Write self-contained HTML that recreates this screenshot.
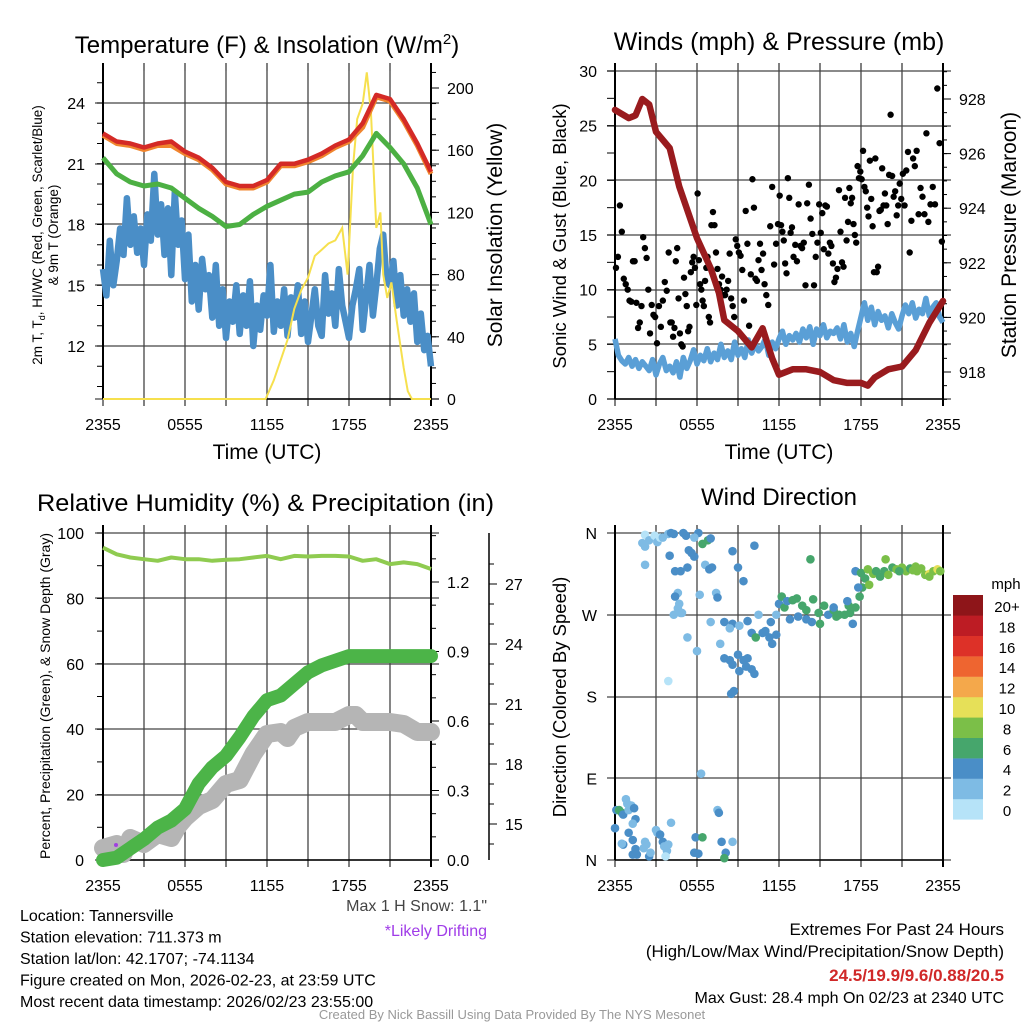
<!DOCTYPE html>
<html><head><meta charset="utf-8"><style>
html,body{margin:0;padding:0;background:#fff;}
svg{display:block;font-family:"Liberation Sans",sans-serif;}
</style></head><body>
<svg id="fig" width="1024" height="1024" viewBox="0 0 1024 1024" xmlns="http://www.w3.org/2000/svg">
<rect width="1024" height="1024" fill="#fff"/>
<g id="layer"></g>
</svg>
<script>
// ---------- DATA ----------
const timeTicks = ["2355","0555","1155","1755","2355"];
const hrs = [0,1,2,3,4,5,6,7,8,9,10,11,12,13,14,15,16,17,18,19,20,21,22,23,24];
const tempAir = [22.5,22.1,22.0,21.8,22.0,22.1,21.6,21.3,20.8,20.1,19.9,19.9,20.2,21.0,21.0,21.2,21.5,21.9,22.2,23.0,24.4,24.2,23.2,22.0,20.6];
const temp9m = [22.4,22.0,21.9,21.7,21.9,21.9,21.5,21.2,20.7,20.0,19.8,19.8,20.1,20.9,20.9,21.1,21.4,21.8,22.1,22.8,24.3,24.1,23.1,21.9,20.5];
const heatIdx = [21.3,20.5,20.1,19.9,20.0,19.8,19.3,18.8,18.4,17.9,18.0,18.5,18.9,19.2,19.5,19.6,20.1,20.4,20.6,21.4,22.5,21.8,21.0,19.8,18.0];
const dewQ = [15.8,14.5,17.2,15.0,16.2,17.8,16.5,19.3,17.0,18.4,16.6,17.8,16.0,18.5,17.2,20.5,17.5,19.0,16.5,18.8,15.5,19.6,17.0,18.2,
 15.3,17.5,14.2,16.0,13.8,16.3,14.8,15.5,13.4,16.0,13.0,14.8,12.4,14.2,13.2,15.0,12.6,14.5,13.0,15.2,12.0,14.0,12.8,14.5,
 13.5,16.0,12.7,14.2,13.0,14.8,12.5,14.4,13.4,15.0,12.6,14.2,12.2,13.5,14.8,13.0,12.5,15.5,13.6,14.6,13.0,15.8,14.0,13.2,
 12.4,14.0,14.8,15.8,12.8,14.4,16.0,13.5,15.0,16.8,17.5,15.2,15.0,16.2,14.0,15.5,13.5,14.8,13.2,14.6,12.2,13.6,11.8,12.5,11.0];
const solarT = [0,11.9,12.5,13.0,13.5,14.0,14.5,15.0,15.5,16.0,16.5,17.0,17.5,17.9,18.3,18.6,19.0,19.3,19.6,20.0,20.3,20.5,20.8,21.1,21.5,22.0,22.3,22.6,24];
const solarV = [0,0,12,25,38,58,70,78,92,96,100,102,110,80,150,180,190,210,185,110,120,80,65,75,50,20,5,0,0];
const presT = [0,1,1.5,2,2.5,3,4,4.7,6,7,7.6,8,9,10,10.8,11.5,12,13,14,15,16,17,18,18.5,19,20,21,22,23,24];
const presV = [927.6,927.3,927.4,928.0,927.8,926.8,926.2,924.8,922.9,921.8,920.9,919.9,919.5,918.9,919.6,918.5,917.9,918.1,918.1,918.0,917.7,917.6,917.6,917.5,917.8,918.1,918.2,918.8,919.8,920.6];
const windQ = [5.5,4.0,3.5,3.2,3.8,3.0,3.6,2.8,3.4,3.0,2.6,3.6,2.2,3.2,3.8,2.6,3.0,2.4,3.4,2.0,3.8,2.8,3.5,4.5,3.2,4.0,3.5,4.6,3.4,4.2,3.6,5.0,
 3.8,4.4,3.6,5.2,4.0,4.6,3.8,5.4,4.2,5.0,4.4,4.8,5.5,4.0,5.2,4.6,5.5,6.2,5.0,5.8,5.4,6.0,5.2,6.4,5.6,6.6,5.0,6.4,5.8,6.8,5.6,6.2,
 6.0,6.5,5.5,6.8,5.2,6.0,4.8,6.2,7.5,8.8,7.2,8.4,6.8,8.0,7.2,7.6,6.5,7.8,7.0,6.4,7.6,8.6,7.8,8.8,7.4,8.2,7.8,9.2,7.6,8.4,8.8,7.5,7.0];
const gustByHour = [
 [12,13,17.7,15.3,11,10.5,10],[9,8.9,12.6,12.6,8.8,6.5,7,8.5],[14.8,13.8,12.9,10,6,8.6,7.7,7.5],[5.1,8.5,6.6,9.0,10.7,9.9,13.4],
 [7,7,5.7,6.5,12.6,13.8,9.2,6,5,4.8],[11.1,9.6,8.5,6.2,6.6,11.6,12.5,13,12,8.6],[18.8,12.7,10.5,10,9,8.5,10.8,12,13,7.5,7],
 [15.9,17.1,15.9,13.4,11.9,10.5,10,11.2,9.5],[9.5,10,10.8,13.3,9.2,8.5,7.5,14.6,14],[13.4,13.1,11.8,9,17.2,14.2,6.7,11.4],
 [20.1,17.5,11,10.8,12.7,14.2,11.8,13.3,10.5],[9.5,8.6,15.8,19.4,12.3,14.2,16],[18.6,15.9,15.3,14.5,12.4,11.5,20.2,18.4,15.2,15.7],
 [13.0,14.1,12.6,17.8,14,13.8,14.3,10.4],[17.9,19.6,16.5,15.1,10.4,13,14.3,17.8],[15.2,17,13.7,17.7,17.6,13.3,14.3,14.0,12.4],
 [10.7,11.1,11.9,19.1,15.3,12.5,12.1,18.4,14.5],[16.2,19.3,17.9,18.4,16,15,14.3,21.3,20.2,20.8],[20.1,22.7,19.4,19.0,17.5,16.7,21.8,18.3,15.8,11.6],
 [22.0,11.6,12.1,17.2,17.3,21.1,17.7,18.8,17.7,16.0],[20.5,26.0,20.4,18.5,19,16.8,17.7,19.7,18.3],[20.6,17.7,20.9,22.6,13.4,16.3,22.0,21.3],
 [22.7,16.9,19.3,18.5,16.9,24.3,16.2],[17.8,19.4,17.8,28.4,23.4,14.4]];
const rhV = [95.5,93.5,92.5,92,91.5,92.5,92,92,91.5,91.8,92,92.5,93,92,93,92.8,93,93,92.8,91.5,92,90.5,91,90.5,89];
const precipT = [0,1,2,3,4,5,6,7,8,9,10,11,12,13,14,15,16,17,18,19,24];
const precipV = [0,0.01,0.05,0.09,0.14,0.17,0.22,0.33,0.40,0.45,0.53,0.62,0.69,0.71,0.76,0.81,0.84,0.86,0.88,0.88,0.88];
const snowT = [0,1,1.5,2,3,4,5,5.5,6,7,8,9,10,11,12,13,13.5,14,15,16,17,18,18.5,19,20,21,22,23,24];
const snowV = [13.8,14.0,13.5,14.3,14.0,14.5,14.3,14.9,15.3,15.9,16.2,17.0,17.2,18.5,19.5,19.6,19.3,19.8,20.1,20.1,20.1,20.45,20.45,20.1,20.1,20.1,20.0,19.6,19.6];
const dirT = [0,0.1,0.3,0.5,0.6,0.8,0.9,1.0,1.2,1.4,1.5,1.3,1.0,0.6,0.5,1.3,1.5,1.3,1.6,2.1,2.2,2.3,2.5,2.6,3.0,3.1,3.3,3.5,3.6,3.8,3.9,4.1,3.7,5.8,6.1,5.9,6.4,6.3,7.5,7.6,7.8,8.1,8.0,8.6,
 2.0,2.2,2.2,2.5,2.9,3.1,3.3,3.5,3.9,4.1,4.3,5.0,5.2,6.1,5.8,6.4,6.8,7.0,5.4,5.6,5.8,4.0,2.2,4.4,4.8,5.3,6.6,6.9,7.1,8.6,9.4,4.6,4.4,4.7,4.6,4.3,4.8,4.9,5.3,6.0,3.9,6.2,7.0,7.4,7.5,8.0,8.6,8.4,9.1,9.7,10.0,10.3,7.7,8.0,8.4,8.6,9.0,9.4,9.1,9.6,10.0,10.2,9.7,8.5,8.7,
 10.5,10.8,11.0,11.3,11.5,11.8,11.4,11.8,12.0,12.2,12.4,12.6,13.0,13.3,12.8,13.4,13.7,14.0,14.5,14.0,14.4,14.9,15.3,15.6,15.0,16.0,16.4,16.8,16.2,16.0,17.1,17.2,17.6,17.4,17.0,17.9,18.1,18.3,17.8,18.6,18.9,19.1,19.4,19.7,20.0,20.3,20.6,21.0,21.3,21.6,21.8,22.1,22.4,22.7,23.0,23.3,23.6,23.8,19.8,17.6,18.0,18.5,20.8,22.0,23.0,14.3,10.2,9.0];
const dirV = [35,55,55,52,50,67,62,55,60,57,45,40,30,17,18,22,12,6,6,13,20,17,4,8,33,30,28,20,15,10,17,41,4,8,7,25,25,95,55,52,20,8,2,20,
 349,345,358,352,357,350,355,355,359,360,359,360,357,360,355,348,352,354,341,338,334,335,325,318,318,322,325,320,322,340,307,294,290,282,277,270,272,272,245,230,197,292,262,294,289,262,260,255,258,263,250,245,238,222,220,215,226,220,208,213,210,205,222,183,186,
 270,250,252,245,238,248,262,270,282,290,278,285,286,288,265,268,280,275,287,265,262,272,280,270,260,275,270,270,268,278,280,272,278,260,285,290,300,310,300,303,315,318,312,318,314,322,320,322,318,321,319,318,321,314,315,318,320,318,331,318,316,320,318,323,312,331,346,322];
const dirS = [4,4,6,6,4,2,2,2,2,4,4,2,4,4,2,4,4,4,4,2,2,2,4,2,2,2,4,4,2,2,2,2,1,4,4,4,6,2,2,4,4,4,6,2,
 2,2,1,2,1,2,1,2,2,4,4,4,4,4,2,6,6,4,4,4,4,4,2,4,4,4,2,4,4,4,4,2,4,2,2,2,2,2,2,2,1,2,2,2,4,4,4,2,2,4,4,6,2,4,4,4,4,4,4,4,4,4,4,4,4,
 2,4,4,4,4,4,4,2,4,6,6,4,6,6,4,4,6,6,6,4,4,6,6,4,6,6,6,6,6,4,6,6,6,4,4,6,6,6,4,8,8,6,6,6,8,6,8,8,8,6,8,8,8,8,10,8,10,8,8,4,6,8,6,8,8,6,4,4];
const speedLabels = ["0","2","4","6","8","10","12","14","16","18","20+"];
const speedColors = ["#b6e3f8","#7ebbe4","#4a8ec7","#46a66c","#7bbf48","#e6e058","#f4a84b","#ee6530","#dd3128","#bd1c24","#8e1519"];

// ---------- HELPERS ----------
const NS="http://www.w3.org/2000/svg";
const L=document.getElementById('layer');
function mk(tag,attrs,parent){const e=document.createElementNS(NS,tag);for(const k in attrs)e.setAttribute(k,attrs[k]);(parent||L).appendChild(e);return e;}
function txt(s,x,y,size,anchor,extra,parent){const t=mk('text',Object.assign({x:x,y:y,'font-size':size,'text-anchor':anchor||'middle',fill:'#000'},extra||{}),parent);t.textContent=s;return t;}
const W=328;
function xs(px0){return h=>px0+h/24*W;}
function lin(d0,d1,p0,p1){return v=>p0+(v-d0)/(d1-d0)*(p1-p0);}
function pathD(xa,ya,fx,fy){return xa.map((h,i)=>(i?'L':'M')+fx(h).toFixed(1)+','+fy(ya[i]).toFixed(1)).join(' ');}
function frame(g,px0,top,bot,hLines){
  for(let i=0;i<=8;i++){const x=px0+i*W/8;mk('line',{x1:x,x2:x,y1:top,y2:bot,stroke:'#444','stroke-width':1.3},g);
    mk('line',{x1:x,x2:x,y1:bot,y2:bot+7,stroke:'#000','stroke-width':1},g);
    if(i<8)mk('line',{x1:x,x2:x,y1:top-8,y2:top,stroke:'#000','stroke-width':1},g);}
  hLines.forEach(y=>mk('line',{x1:px0-8,x2:px0+W+8,y1:y,y2:y,stroke:'#444','stroke-width':1.3},g));
  mk('line',{x1:px0,x2:px0,y1:top-8,y2:bot,stroke:'#000','stroke-width':2},g);
  mk('line',{x1:px0+W,x2:px0+W,y1:top-8,y2:bot+7,stroke:'#000','stroke-width':2},g);
  mk('line',{x1:px0,x2:px0+W,y1:bot,y2:bot,stroke:'#000','stroke-width':1.5},g);
  timeTicks.forEach((t,i)=>{const tt=txt(t,px0+i*W/4,bot+31,16,'middle',{},g);});
}
function group(name){const g=mk('g',{});return g;}

// ---------- PANEL 1: Temperature ----------
(function(){
 const g=group('temperature-panel');
 const fx=xs(103), fy=lin(12,24,346,103), fs=lin(0,200,399,88);
 frame(g,103,71,399,[103,164,224,285,346,399]);
 [12,15,18,21,24].forEach(v=>{txt(String(v),85,fy(v)+6,16,'end',{},g);});
 for(let v=10;v<=25;v++){mk('line',{x1:97,x2:103,y1:fy(v),y2:fy(v),stroke:'#000'},g);}
 [0,40,80,120,160,200].forEach(v=>{txt(String(v),447,fs(v)+6,16,'start',{},g);mk('line',{x1:431,x2:439,y1:fs(v),y2:fs(v),stroke:'#000'},g);});
 for(let v=10;v<=210;v+=10){mk('line',{x1:431,x2:436,y1:fs(v),y2:fs(v),stroke:'#000'},g);}
 const qt=dewQ.map((v,i)=>i/4);
 let p=mk('path',{d:pathD(qt,dewQ,fx,fy),fill:'none',stroke:'#4a8ec7','stroke-width':6.5,'stroke-linejoin':'round'},g);
 
 p=mk('path',{d:pathD(solarT,solarV,fx,fs),fill:'none',stroke:'#f6e04e','stroke-width':2},g);
 
 p=mk('path',{d:pathD(hrs,heatIdx,fx,fy),fill:'none',stroke:'#4cb043','stroke-width':5,'stroke-linejoin':'round'},g);
 
 p=mk('path',{d:pathD(hrs,temp9m,fx,fy),fill:'none',stroke:'#f0852e','stroke-width':5,'stroke-linejoin':'round'},g);
 
 p=mk('path',{d:pathD(hrs,tempAir,fx,fy),fill:'none',stroke:'#d42a26','stroke-width':4.5,'stroke-linejoin':'round'},g);
 
 const t=txt('',267,53,24,'middle',{},g);t.innerHTML='Temperature (F) &amp; Insolation (W/m<tspan dy="-9" font-size="15">2</tspan><tspan dy="9">)</tspan>';
 
 txt('Time (UTC)',267,459,21,'middle',{},g);
 const yl=txt('',0,0,13.5,'middle',{transform:'translate(42,235) rotate(-90)'},g);
 yl.innerHTML='2m T, T<tspan font-size="9" dy="3">d</tspan><tspan dy="-3">, HI/WC (Red, Green, Scarlet/Blue)</tspan>';
 txt('& 9m T (Orange)',0,0,13.5,'middle',{transform:'translate(58,235) rotate(-90)'},g);
 txt('Solar Insolation (Yellow)',0,0,21,'middle',{transform:'translate(502,235) rotate(-90)'},g);
})();

// ---------- PANEL 2: Winds ----------
(function(){
 const g=group('winds-panel');
 const fx=xs(615), fy=lin(0,30,399,71), fp=lin(918,928,372,99);
 frame(g,615,71,399,[71,126,180,235,290,344,399]);
 [0,5,10,15,20,25,30].forEach(v=>{txt(String(v),597,fy(v)+6,16,'end',{},g);});
 for(let v=0;v<=30;v+=2.5){mk('line',{x1:607,x2:615,y1:fy(v),y2:fy(v),stroke:'#000'},g);}
 [918,920,922,924,926,928].forEach(v=>{txt(String(v),959,fp(v)+6,16,'start',{},g);mk('line',{x1:943,x2:951,y1:fp(v),y2:fp(v),stroke:'#000'},g);});
 for(let v=917;v<=929;v+=0.5){mk('line',{x1:943,x2:947,y1:fp(v),y2:fp(v),stroke:'#000'},g);}
 const qt=windQ.map((v,i)=>i/4);
 let p=mk('path',{d:pathD(qt,windQ,fx,fy),fill:'none',stroke:'#5a9fd6','stroke-width':5.5,'stroke-linejoin':'round'},g);
 
 gustByHour.forEach((arr,h)=>arr.forEach((v,i)=>{
   const c=mk('circle',{cx:fx(h+(i+0.5)/arr.length),cy:fy(v),r:3.2,fill:'#000'},g);
   
   
 }));
 p=mk('path',{d:pathD(presT,presV,fx,fp),fill:'none',stroke:'#991b1e','stroke-width':6.5,'stroke-linejoin':'round','stroke-linecap':'round'},g);
 
 txt('Winds (mph) & Pressure (mb)',779,50,25,'middle',{},g);
 txt('Time (UTC)',779,459,21,'middle',{},g);
 txt('Sonic Wind & Gust (Blue, Black)',0,0,18.5,'middle',{transform:'translate(566,236) rotate(-90)'},g);
 txt('Station Pressure (Maroon)',0,0,21,'middle',{transform:'translate(1016,235) rotate(-90)'},g);
})();

// ---------- PANEL 3: RH & Precip ----------
(function(){
 const g=group('humidity-precip-panel');
 const fx=xs(103), fy=lin(0,100,860,533), fpr=lin(0,1.2,860,582), fsn=lin(21,27,704,584);
 frame(g,103,533,860,[533,598,664,729,795,860]);
 [0,20,40,60,80,100].forEach(v=>{txt(String(v),84,fy(v)+6,16,'end',{},g);});
 for(let v=0;v<=100;v+=10){mk('line',{x1:97,x2:103,y1:fy(v),y2:fy(v),stroke:'#000'},g);}
 [0,0.3,0.6,0.9,1.2].forEach(v=>{txt(v.toFixed(1),447,fpr(v)+6,16,'start',{},g);mk('line',{x1:431,x2:439,y1:fpr(v),y2:fpr(v),stroke:'#000'},g);});
 for(let v=0;v<=1.41;v+=0.1){mk('line',{x1:431,x2:436,y1:fpr(v),y2:fpr(v),stroke:'#000'},g);}
 mk('line',{x1:489,x2:489,y1:533,y2:860,stroke:'#000','stroke-width':1.5},g);
 [15,18,21,24,27].forEach(v=>{txt(String(v),505,fsn(v)+6,16,'start',{},g);mk('line',{x1:489,x2:497,y1:fsn(v),y2:fsn(v),stroke:'#000'},g);});
 for(let v=14;v<=28;v++){mk('line',{x1:489,x2:494,y1:fsn(v),y2:fsn(v),stroke:'#000'},g);}
 let p=mk('path',{d:pathD(snowT,snowV,fx,fsn),fill:'none',stroke:'#b5b5b5','stroke-width':18,'stroke-linejoin':'round','stroke-linecap':'round'},g);
 
 p=mk('path',{d:pathD(precipT,precipV,fx,fpr),fill:'none',stroke:'#4cb448','stroke-width':14,'stroke-linejoin':'round','stroke-linecap':'round'},g);
 
 p=mk('path',{d:pathD(hrs,rhV,fx,fy),fill:'none',stroke:'#8fcb50','stroke-width':4,'stroke-linejoin':'round'},g);
 
 mk('circle',{cx:116,cy:845,r:2,fill:'#a040e0'},g);
 txt('Relative Humidity (%) & Precipitation (in)',37,511,24,'start',{textLength:457,lengthAdjust:'spacingAndGlyphs'},g);
 txt('Percent, Precipitation (Green), & Snow Depth (Gray)',0,0,14,'middle',{transform:'translate(50,696) rotate(-90)'},g);
})();

// ---------- PANEL 4: Wind Direction ----------
(function(){
 const g=group('wind-direction-panel');
 const fx=xs(615), fy=lin(0,360,860,533);
 frame(g,615,533,860,[533,615,697,778,860]);
 ['N','E','S','W','N'].forEach((s,i)=>txt(s,597,fy(i*90)+6,16,'end',{},g));
 dirT.forEach((h,i)=>{
   const c=mk('circle',{cx:fx(h),cy:fy(dirV[i]),r:4.3,fill:speedColors[Math.min(10,Math.floor(dirS[i]/2))]},g);
   
   
 });
 const lg=group('speed-legend');
 speedColors.forEach((c,i)=>{mk('rect',{x:953,y:799-i*20.4,width:30,height:20.6,fill:c},lg);
   txt(speedLabels[i],1007,816-i*20.4,15,'middle',{},lg);});
 txt('mph',1006,589,15,'middle',{},lg);
 txt('Wind Direction',779,505,24,'middle',{},g);
 txt('Direction (Colored By Speed)',0,0,18.5,'middle',{transform:'translate(566,697) rotate(-90)'},g);
})();

// ---------- FOOTER ----------
(function(){
 const g=group('footer-text');
 const left=['Location: Tannersville','Station elevation: 711.373 m','Station lat/lon: 42.1707; -74.1134','Figure created on Mon, 2026-02-23, at 23:59 UTC','Most recent data timestamp: 2026/02/23 23:55:00'];
 left.forEach((s,i)=>txt(s,20,921+i*21.5,16,'start',{},g));
 txt('Max 1 H Snow: 1.1"',487,911,16,'end',{fill:'#444'},g);
 txt('*Likely Drifting',487,936,16,'end',{fill:'#a03ce8'},g);
 txt('Extremes For Past 24 Hours',1004,935,17,'end',{},g);
 txt('(High/Low/Max Wind/Precipitation/Snow Depth)',1004,957,17,'end',{},g);
 txt('24.5/19.9/9.6/0.88/20.5',1004,981,17,'end',{fill:'#d02828','font-weight':'bold'},g);
 txt('Max Gust: 28.4 mph On 02/23 at 2340 UTC',1004,1003,16,'end',{},g);
 txt('Created By Nick Bassill Using Data Provided By The NYS Mesonet',512,1019,13,'middle',{fill:'#999'},g);
})();
</script>
</body></html>
